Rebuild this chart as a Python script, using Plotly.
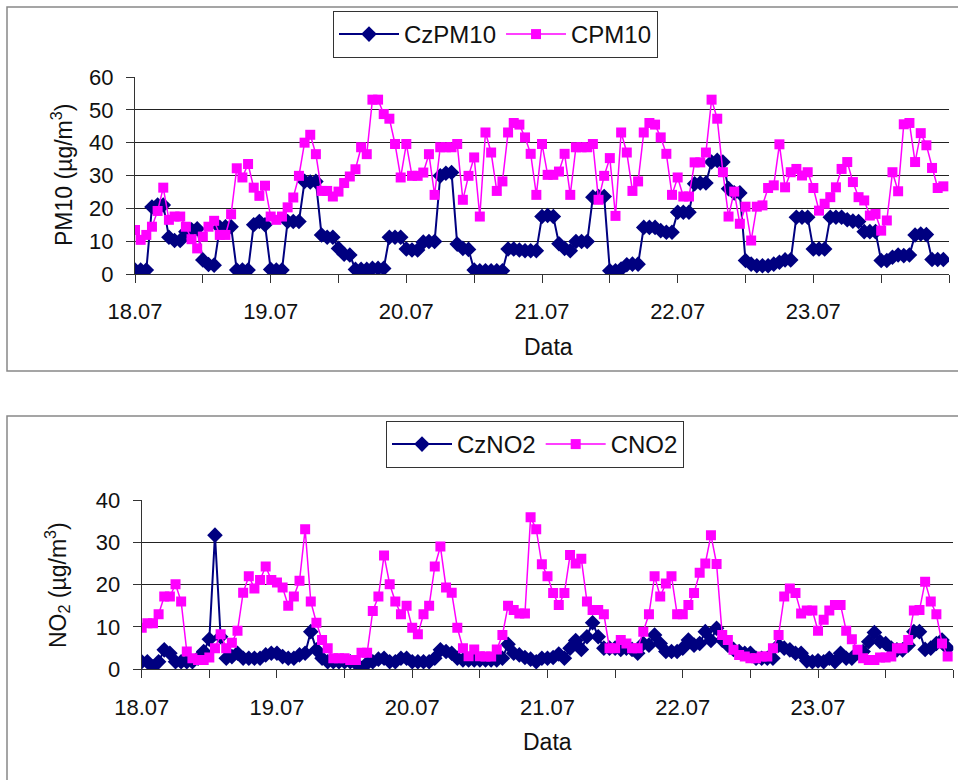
import plotly.graph_objects as go

# ---------------- data (hourly, 18.07 00:00 -> 23.07 23:00) ----------------
day_labels = ["18.07", "19.07", "20.07", "21.07", "22.07", "23.07"]

cz_pm10 = [
    1.2, 1.2, 1.2, 20.4, 21.0, 21.0, 11.2, 10.2, 10.2, 12.9, 13.5, 13.8,
    4.3, 2.9, 2.7, 14.2, 14.4, 14.4, 1.2, 1.2, 1.2, 15.0, 16.0, 15.0,
    1.4, 1.2, 1.2, 16.0, 16.0, 16.0, 28.2, 28.0, 28.2, 11.9, 11.2, 11.2,
    7.8, 6.0, 5.8, 1.4, 1.4, 1.4, 1.7, 1.7, 1.7, 11.2, 11.2, 11.2,
    7.6, 7.3, 7.3, 9.7, 9.9, 9.9, 29.9, 30.7, 30.9, 9.1, 7.8, 7.5,
    1.2, 1.0, 1.0, 1.0, 1.0, 1.0, 7.6, 7.6, 7.3, 7.1, 7.1, 7.1,
    17.5, 17.8, 17.5, 9.2, 7.8, 7.1, 9.9, 9.9, 9.9, 23.4, 23.6, 23.6,
    1.0, 1.0, 1.5, 2.8, 3.0, 3.0, 14.2, 14.2, 14.2, 13.2, 12.7, 12.7,
    18.8, 18.8, 18.8, 27.5, 27.7, 27.7, 34.1, 34.6, 34.1, 26.0, 24.7, 24.7,
    4.1, 3.0, 2.5, 2.5, 2.5, 3.0, 3.6, 4.3, 4.3, 17.3, 17.3, 17.3,
    7.6, 7.6, 7.6, 17.3, 17.3, 17.3, 16.5, 16.1, 16.0, 12.9, 12.9, 12.9,
    4.1, 4.1, 5.1, 5.8, 5.6, 5.8, 11.9, 12.2, 12.0, 4.4, 4.4, 4.4,
]

c_pm10 = [
    13.4, 10.4, 11.9, 14.4, 19.2, 26.3, 16.5, 17.5, 17.5, 14.4, 10.6, 7.8,
    11.4, 14.4, 16.2, 11.9, 11.9, 18.2, 32.2, 29.4, 33.5, 26.3, 23.8, 26.9,
    17.5, 16.5, 17.5, 20.3, 23.3, 29.9, 40.0, 42.4, 36.5, 25.3, 25.3, 23.6,
    25.1, 27.7, 29.7, 31.9, 38.6, 36.5, 53.1, 53.1, 48.7, 47.3, 39.6, 29.4,
    39.6, 29.9, 29.9, 30.9, 36.5, 24.1, 38.6, 38.6, 38.6, 39.6, 22.6, 29.9,
    35.5, 17.5, 43.1, 37.0, 25.3, 28.2, 43.1, 46.0, 45.5, 41.6, 36.6, 24.1,
    39.6, 30.2, 30.2, 31.2, 36.6, 24.1, 38.6, 38.6, 38.6, 39.6, 22.6, 29.9,
    35.3, 17.7, 43.1, 37.0, 25.3, 28.2, 43.1, 46.0, 45.5, 41.6, 36.6, 24.1,
    29.4, 23.6, 23.6, 34.0, 34.0, 37.0, 53.1, 47.3, 31.0, 17.5, 25.1, 15.3,
    20.5, 10.2, 20.5, 20.9, 26.2, 27.0, 39.5, 26.4, 31.0, 32.0, 30.0, 31.0,
    26.2, 19.3, 21.4, 23.4, 26.4, 32.0, 34.1, 28.0, 23.4, 22.4, 17.8, 18.3,
    13.2, 16.3, 31.0, 25.2, 45.6, 46.0, 34.1, 42.9, 39.2, 32.3, 26.2, 26.7,
]

cz_no2 = [
    1.8, 1.8, 0.6, 1.8, 4.6, 3.8, 1.8, 1.8, 1.8, 1.8, 2.6, 4.2,
    7.1, 31.7, 7.7, 2.6, 3.0, 3.8, 2.6, 2.6, 2.6, 2.6, 3.4, 3.8,
    3.8, 3.0, 2.6, 2.6, 3.4, 3.8, 8.9, 4.6, 2.6, 1.8, 1.8, 1.8,
    1.8, 1.8, 1.4, 0.2, 1.4, 1.8, 2.4, 2.6, 1.8, 1.8, 2.6, 2.6,
    1.8, 1.8, 1.8, 1.8, 2.6, 4.6, 4.2, 3.8, 2.6, 2.2, 2.2, 2.2,
    2.2, 2.2, 2.2, 2.2, 2.6, 5.9, 3.8, 3.4, 2.8, 2.4, 1.8, 2.6,
    2.6, 2.8, 3.6, 2.6, 5.0, 6.8, 4.7, 7.7, 11.0, 7.7, 5.0, 5.0,
    5.0, 4.7, 5.0, 4.7, 3.8, 6.1, 5.7, 8.1, 6.1, 4.2, 4.2, 4.2,
    5.0, 6.9, 5.7, 6.1, 8.9, 6.8, 9.7, 6.9, 5.7, 4.7, 4.2, 3.8,
    3.8, 2.6, 2.6, 2.6, 2.6, 5.7, 5.0, 4.6, 3.8, 3.8, 2.0, 1.8,
    2.0, 1.8, 2.6, 1.8, 3.8, 2.6, 2.6, 3.9, 4.2, 6.5, 8.7, 6.5,
    6.1, 5.0, 4.6, 4.6, 5.7, 8.9, 8.9, 4.7, 5.0, 6.1, 6.9, 5.0,
]

c_no2 = [
    9.8, 10.9, 10.9, 13.0, 17.2, 17.2, 20.1, 16.0, 4.2, 2.6, 2.2, 2.2,
    2.8, 5.0, 8.3, 5.0, 6.3, 9.1, 18.1, 22.0, 19.1, 21.1, 24.3, 21.1,
    20.5, 19.3, 15.0, 17.2, 20.9, 33.1, 16.0, 11.0, 6.9, 5.0, 2.6, 2.6,
    2.6, 2.2, 2.2, 3.9, 3.9, 13.8, 17.2, 26.9, 20.1, 16.0, 13.0, 15.0,
    9.8, 8.3, 13.0, 15.0, 24.3, 29.0, 19.3, 18.1, 9.8, 5.0, 3.1, 4.7,
    3.1, 3.0, 3.0, 4.7, 8.1, 15.0, 14.0, 13.2, 13.2, 35.9, 33.1, 24.8,
    22.0, 18.0, 15.2, 18.0, 27.0, 25.0, 26.1, 16.0, 14.0, 14.0, 13.0, 5.0,
    5.0, 6.9, 6.1, 5.0, 5.0, 8.9, 13.0, 22.0, 17.2, 20.3, 22.0, 13.0,
    13.0, 15.2, 18.0, 22.8, 25.0, 31.7, 24.9, 8.1, 6.9, 4.6, 3.4, 3.0,
    2.6, 2.6, 3.0, 3.0, 5.0, 8.1, 17.2, 19.1, 18.0, 13.2, 13.9, 13.9,
    9.1, 11.7, 13.9, 15.2, 15.2, 9.1, 7.1, 4.6, 2.6, 2.2, 2.2, 2.8,
    2.8, 3.0, 5.0, 5.0, 6.9, 13.9, 14.0, 20.7, 16.0, 13.0, 6.1, 3.0,
]

hours = list(range(len(c_pm10)))
day_ticks = [24 * k for k in range(len(day_labels))]

# ---------------- layout helpers ----------------
W, H = 958, 780
def fx(px):
    return px / W
def fy(py):
    return 1 - py / H

NAVY = "#000080"
MAG = "#FF00FF"
FONT = "Liberation Sans, Arial, sans-serif"
TXT = "#111111"

fig = go.Figure()

def add_pair(cz, c, name_cz, name_c, xa, ya, leg):
    fig.add_trace(go.Scatter(
        x=hours, y=cz, name=name_cz, mode="lines+markers", xaxis=xa, yaxis=ya, legend=leg,
        line=dict(color=NAVY, width=2),
        marker=dict(symbol="diamond", size=12, color=NAVY),
    ))
    fig.add_trace(go.Scatter(
        x=hours, y=c, name=name_c, mode="lines+markers", xaxis=xa, yaxis=ya, legend=leg,
        line=dict(color=MAG, width=1.5),
        marker=dict(symbol="square", size=10, color=MAG),
    ))

add_pair(cz_pm10, c_pm10, "CzPM10", "CPM10", "x", "y", "legend")
add_pair(cz_no2, c_no2, "CzNO2", "CNO2", "x2", "y2", "legend2")

xaxis_common = dict(
    range=[0, 144], tickmode="array", tickvals=day_ticks, ticktext=day_labels,
    showgrid=False, zeroline=False, showline=True, linecolor="#333", linewidth=1,
    ticks="outside", ticklen=8, tickcolor="#333", tickwidth=1,
    minor=dict(ticks="outside", ticklen=8, tickcolor="#333", tickwidth=1,
               tick0=0, dtick=12, showgrid=False),
    tickfont=dict(family=FONT, size=22, color=TXT), ticklabelstandoff=10,
    automargin=False, fixedrange=True,
)
yaxis_common = dict(
    showgrid=True, gridcolor="#222", gridwidth=1, zeroline=False,
    showline=True, linecolor="#333", linewidth=1,
    ticks="outside", ticklen=8, tickcolor="#333", tickwidth=1,
    tickfont=dict(family=FONT, size=22, color=TXT), ticklabelstandoff=8,
    automargin=False, fixedrange=True,
)

legend_common = dict(
    orientation="h", xanchor="left", yanchor="top",
    bordercolor="#333", borderwidth=1, bgcolor="white",
    itemwidth=60, font=dict(family=FONT, size=24, color=TXT),
)

def label(text, px, py, angle=0, size=23):
    return dict(text=text, x=fx(px), y=fy(py), xref="paper", yref="paper",
                xanchor="center", yanchor="middle", showarrow=False, textangle=angle,
                font=dict(family=FONT, size=size, color=TXT))

fig.update_layout(
    template="none",
    width=W, height=H, margin=dict(l=0, r=0, t=0, b=0, autoexpand=False),
    paper_bgcolor="white", plot_bgcolor="white",
    font=dict(family=FONT, color=TXT),
    xaxis=dict(domain=[fx(135), fx(949)], anchor="y", **xaxis_common),
    yaxis=dict(domain=[fy(274), fy(77)], anchor="x", range=[0, 60], dtick=10, **yaxis_common),
    xaxis2=dict(domain=[fx(141.7), fx(953.3)], anchor="y2", **xaxis_common),
    yaxis2=dict(domain=[fy(669.3), fy(500)], anchor="x2", range=[0, 40], dtick=10, **yaxis_common),
    legend=dict(x=fx(333), y=fy(11), **legend_common),
    legend2=dict(x=fx(386), y=fy(421), **legend_common),
    shapes=[
        dict(type="rect", xref="paper", yref="paper", x0=fx(7), x1=fx(962), y0=fy(371), y1=fy(7),
             line=dict(color="#888", width=1.5), layer="below"),
        dict(type="rect", xref="paper", yref="paper", x0=fx(7), x1=fx(962), y0=fy(790), y1=fy(416),
             line=dict(color="#888", width=1.5), layer="below"),
    ],
    annotations=[
        label("Data", 548, 347),
        label("Data", 547, 742),
        label("PM10 (µg/m<sup>3</sup>)", 62, 175, angle=-90),
        label("NO<sub>2</sub> (µg/m<sup>3</sup>)", 57, 585, angle=-90),
    ],
)

fig.write_html("out.html")
